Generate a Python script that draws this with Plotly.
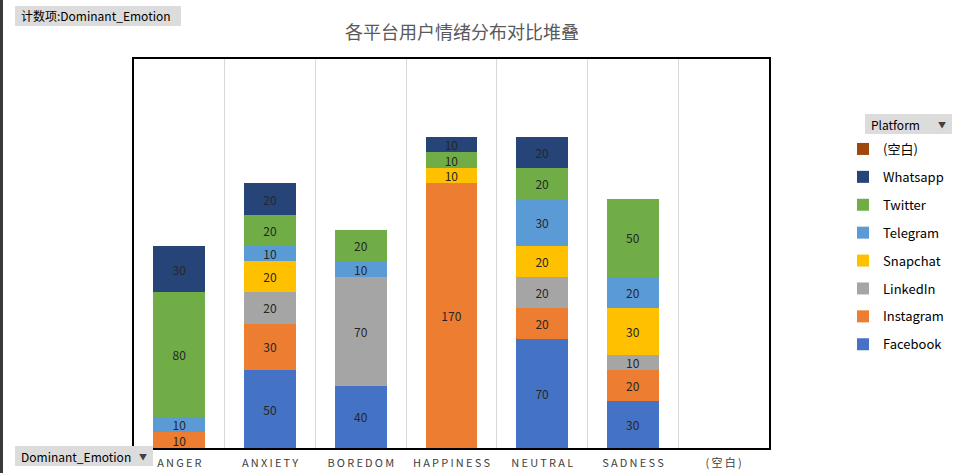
import plotly.graph_objects as go

# Data
# =====================================================================
emotions = ["ANGER", "ANXIETY", "BOREDOM", "HAPPINESS", "NEUTRAL", "SADNESS", "(空白)"]

# stacked bottom -> top
platforms = ["Facebook", "Instagram", "LinkedIn", "Snapchat", "Telegram", "Twitter", "Whatsapp", "(空白)"]
facebook  = [None, 50, 40, None, 70, 30, None]
instagram = [10, 30, None, 170, 20, 20, None]
linkedin  = [None, 20, 70, None, 20, 10, None]
snapchat  = [None, 20, None, 10, 20, 30, None]
telegram  = [10, 10, 10, None, 30, 20, None]
twitter   = [80, 20, 20, 10, 20, 50, None]
whatsapp  = [30, 20, None, 10, 20, None, None]
blank     = [None, None, None, None, None, None, None]
series = [facebook, instagram, linkedin, snapchat, telegram, twitter, whatsapp, blank]

colors = ["#4472C4", "#ED7D31", "#A5A5A5", "#FFC000", "#5B9BD5", "#70AD47", "#264478", "#9E480E"]

# letter-spaced tick labels (Excel style)
tick_labels = ["\u2009".join(e) for e in emotions]

FONT = "Noto Sans CJK SC, Noto Sans, sans-serif"

# Plot area in pixels -> paper coords
L, R, T, B = 134, 769, 59, 448
def px(x):
    return (x - L) / (R - L)
def py(y):
    return (B - y) / (B - T)

# Figure
# =====================================================================
fig = go.Figure()

for i, (name, vals, col) in enumerate(zip(platforms, series, colors)):
    fig.add_trace(go.Bar(
        x=emotions,
        y=vals,
        name=name,
        legendgroup=name,
        legendrank=1000 - i,
        marker=dict(color=col, line=dict(width=0)),
        texttemplate="%{y}",
        textposition="inside",
        insidetextanchor="middle",
        textangle=0,
        constraintext="none",
        textfont=dict(size=12, color="#262626", family=FONT),
        hovertemplate="%{x}<br>" + name + ": %{y}<extra></extra>",
    ))

# Pivot field buttons
buttons = [
    ("计数项:Dominant_Emotion", 15, 181, 16, False),
    ("Dominant_Emotion", 15, 153, 456, True),
    ("Platform", 865, 952, 124, True),
]
for label, x0, x1, yc, arrow in buttons:
    fig.add_shape(type="rect", xref="paper", yref="paper",
                  x0=px(x0), x1=px(x1), y0=py(yc + 10), y1=py(yc - 10),
                  fillcolor="#dcdcdc", line=dict(width=0), layer="above")
    fig.add_annotation(text=label, xref="paper", yref="paper",
                       x=px(x0 + 4), y=py(yc), xanchor="left", yanchor="middle",
                       showarrow=False, font=dict(size=12, color="#000000", family=FONT))
    if arrow:
        fig.add_annotation(text="▼", xref="paper", yref="paper",
                           x=px(x1 - 10), y=py(yc), xanchor="center", yanchor="middle",
                           showarrow=False, font=dict(size=8, color="#404040", family=FONT))

# spreadsheet edge on the left
fig.add_shape(type="rect", xref="paper", yref="paper",
              x0=px(0), x1=px(3), y0=py(473), y1=py(0),
              fillcolor="#3a3a3a", line=dict(width=0), layer="above")

fig.update_layout(
    barmode="stack",
    bargap=0.427,
    width=960,
    height=473,
    margin=dict(l=L, r=960 - R, t=T, b=473 - B, autoexpand=False),
    plot_bgcolor="white",
    paper_bgcolor="white",
    font=dict(family=FONT, color="#595959"),
    title=dict(
        text="各平台用户情绪分布对比堆叠",
        x=px(462), xanchor="center", xref="paper",
        y=1 - 33 / 473, yanchor="middle",
        font=dict(size=18, color="#595959", family=FONT),
    ),
    xaxis=dict(
        categoryorder="array",
        categoryarray=emotions,
        tickvals=emotions,
        ticktext=tick_labels,
        range=[-0.5, 6.5],
        tickson="boundaries",
        ticks="",
        ticklabelstandoff=4,
        showgrid=True,
        gridcolor="#d9d9d9",
        gridwidth=1,
        showline=True,
        mirror=True,
        linecolor="black",
        linewidth=2,
        automargin=False,
        tickfont=dict(size=11, color="#404040", family=FONT),
        fixedrange=True,
    ),
    yaxis=dict(
        range=[0, 250],
        showticklabels=False,
        showgrid=False,
        zeroline=False,
        showline=True,
        mirror=True,
        linecolor="black",
        linewidth=2,
        automargin=False,
        ticks="",
        fixedrange=True,
    ),
    legend=dict(
        x=px(843), xanchor="left",
        y=py(134), yanchor="top",
        tracegroupgap=8,
        font=dict(size=13, color="#000000", family=FONT),
        bgcolor="rgba(0,0,0,0)",
        itemclick=False,
        itemdoubleclick=False,
    ),
    showlegend=True,
)

# the default page margin would shift the figure by 8px
fix_page = "document.body.style.margin='0';"
fig.write_html("out.html", config={"displayModeBar": False}, post_script=fix_page)
